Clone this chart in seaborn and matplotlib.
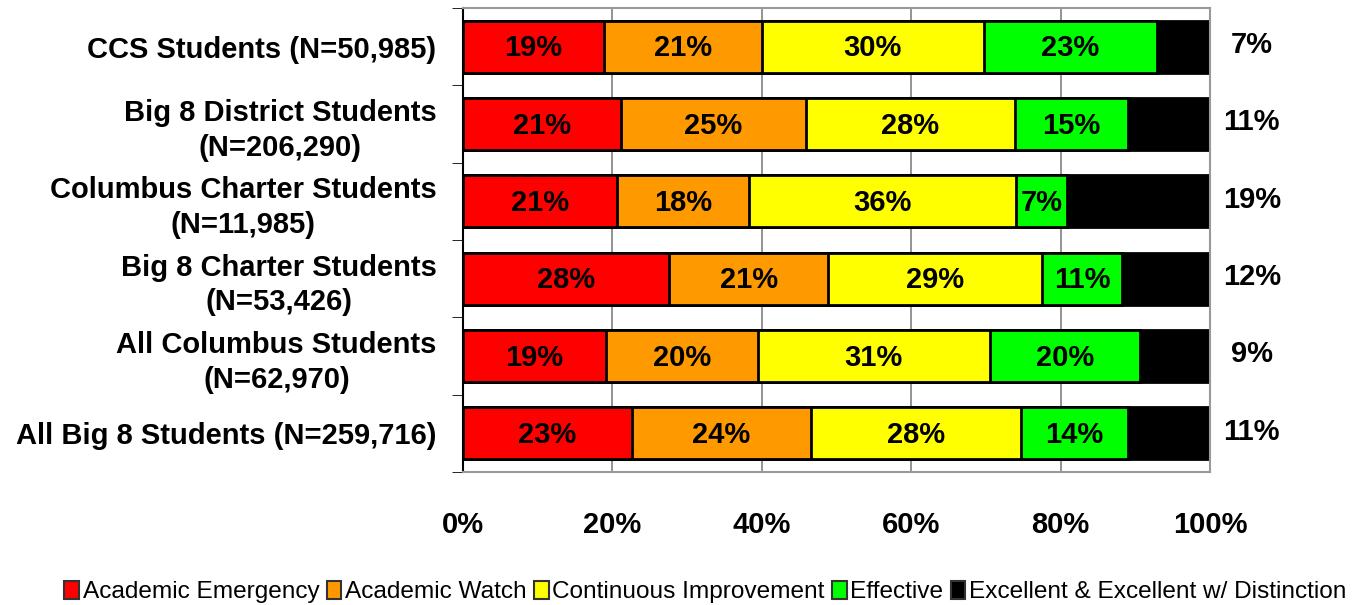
import matplotlib
matplotlib.use("Agg")
import matplotlib.pyplot as plt
import seaborn as sns
import numpy as np
from matplotlib.patches import Patch

# ---------------- Data ----------------
categories = [
    "CCS Students (N=50,985)",
    "Big 8 District Students\n(N=206,290)",
    "Columbus Charter Students\n(N=11,985)",
    "Big 8 Charter Students\n(N=53,426)",
    "All Columbus Students\n(N=62,970)",
    "All Big 8 Students (N=259,716)",
]
levels = ["Academic Emergency", "Academic Watch", "Continuous Improvement",
          "Effective", "Excellent & Excellent w/ Distinction"]
emergency = [18.9, 21.2, 20.6, 27.6, 19.1, 22.6]
watch = [21.1, 24.7, 17.7, 21.3, 20.4, 24.0]
improvement = [29.7, 28.0, 35.7, 28.6, 31.0, 28.1]
effective = [23.2, 15.1, 6.9, 10.7, 20.1, 14.3]
excellent = [7.1, 11.0, 19.1, 11.8, 9.4, 11.0]
colors = ["#ff0000", "#ff9900", "#ffff00", "#00ff00", "#000000"]

series = np.array([emergency, watch, improvement, effective, excellent])
cum = series.cumsum(axis=0)

sns.set_style("white")
plt.rcParams["font.family"] = ["Liberation Sans", "DejaVu Sans"]
plt.rcParams["text.color"] = "black"
plt.rcParams["xtick.color"] = "black"
plt.rcParams["ytick.color"] = "black"

fig = plt.figure(figsize=(13.54, 6.05), dpi=100)
ax = fig.add_axes([463 / 1354, 1 - 472 / 605, 747 / 1354, 464 / 605])

# stacked bars: draw cumulative totals from the longest to the shortest
for i in range(len(levels) - 1, -1, -1):
    sns.barplot(x=cum[i], y=categories, orient="h", color=colors[i],
                saturation=1, edgecolor="black", linewidth=2, width=0.67, ax=ax)

# labels inside segments
for i in range(len(levels) - 1):
    for j in range(len(categories)):
        start = cum[i][j] - series[i][j]
        ax.text(start + series[i][j] / 2, j + 0.02, f"{round(series[i][j])}%",
                ha="center", va="center", fontsize=21, fontweight="bold", color="black")
# labels for the top level outside the bars
for j in range(len(categories)):
    ax.text(105.6, j - 0.02, f"{round(excellent[j])}%", ha="center", va="center",
            fontsize=21, fontweight="bold", color="black", clip_on=False)

ax.set_xlim(0, 100)
ax.set_ylim(5.5, -0.5)
ax.set_xticks([0, 20, 40, 60, 80, 100])
ax.set_xticklabels(["0%", "20%", "40%", "60%", "80%", "100%"],
                   fontsize=21, fontweight="bold")
ax.tick_params(axis="x", length=0, pad=28)
ax.set_yticks(range(len(categories)))
ax.set_yticklabels(categories, fontsize=21, fontweight="bold")
for lab in ax.get_yticklabels():
    lab.set_multialignment("center")
    lab.set_linespacing(1.3)
ax.tick_params(axis="y", length=0, pad=19)
ax.set_yticks(np.arange(-0.5, len(categories), 1), minor=True)
ax.tick_params(axis="y", which="minor", length=8, color="black", direction="out", left=True)
ax.set_xlabel("")
ax.set_ylabel("")

ax.set_axisbelow(True)
ax.xaxis.grid(True, color="#808080", linewidth=1.2)
ax.yaxis.grid(False)
for side in ["top", "right", "bottom"]:
    ax.spines[side].set_color("#999999")
    ax.spines[side].set_linewidth(1.5)
ax.spines["left"].set_color("black")
ax.spines["left"].set_linewidth(1.5)

handles = [Patch(facecolor=c, edgecolor="#333333", linewidth=1.5) for c in colors]
fig.legend(handles, levels, loc="center", bbox_to_anchor=(0.521, 1 - 592 / 605),
           ncol=5, frameon=False, fontsize=17.6, handlelength=0.6, handleheight=0.8,
           handletextpad=0.15, columnspacing=0.3, borderaxespad=0)

fig.savefig("out.png", dpi=100)
